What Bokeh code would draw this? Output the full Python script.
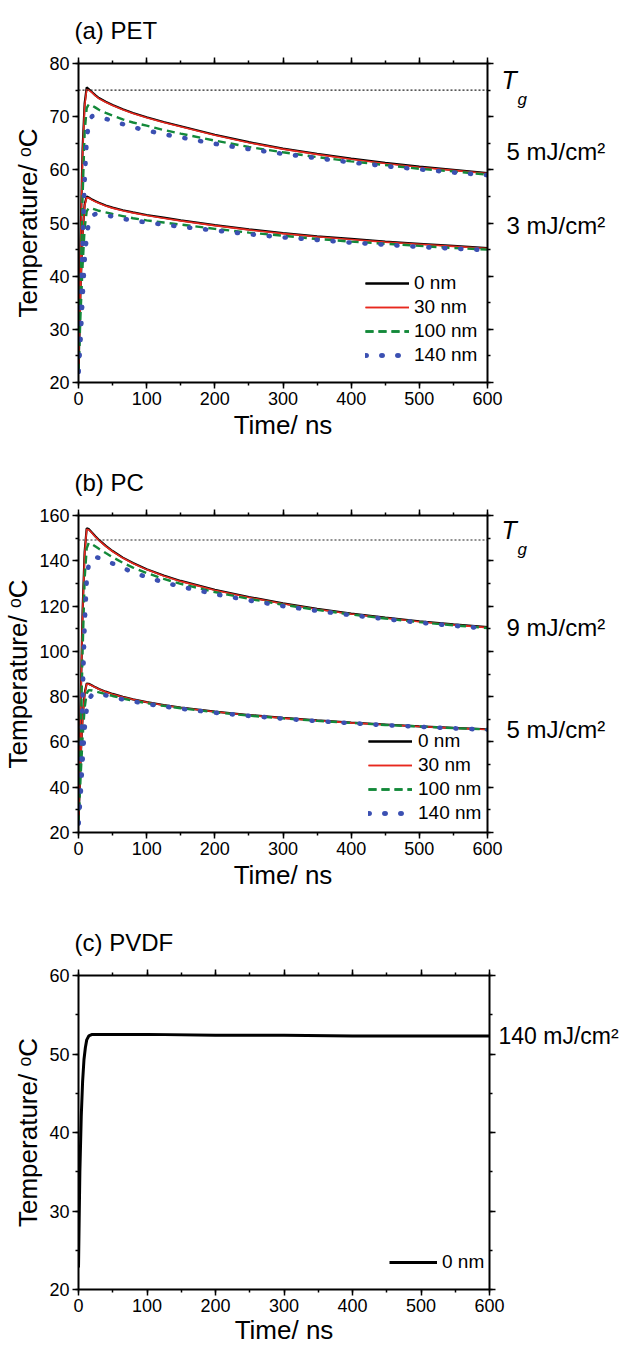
import math
from bokeh.plotting import figure
from bokeh.models import (Legend, LegendItem, Span, LinearAxis, Title, FixedTicker,
                          SingleIntervalTicker, CustomJSTickFormatter, Range1d)
from bokeh.layouts import column
from bokeh.embed import file_html
from bokeh.resources import INLINE

FONT = "Liberation Sans"

# ---------------- data ----------------
time_ns = [0, 3, 6, 9, 12, 15, 20, 25, 30, 40, 50, 65, 80, 100, 125, 150,
           200, 250, 300, 350, 400, 450, 500, 550, 600]

# (a) PET, 5 mJ/cm2
pet5_0nm = [22, 47, 64, 72.5, 75.5, 75.2, 74.6, 74.0, 73.5, 72.8, 72.2, 71.4, 70.7, 69.9, 69.0,
            68.2, 66.6, 65.2, 64.0, 63.0, 62.1, 61.3, 60.6, 60.0, 59.4]
pet5_30nm = [22, 46, 63, 72.0, 75.1, 75.0, 74.5, 73.9, 73.4, 72.7, 72.1, 71.3, 70.6, 69.8, 68.9,
             68.1, 66.5, 65.1, 63.9, 62.9, 62.0, 61.2, 60.5, 59.9, 59.3]
pet5_100nm = [22, 38, 55, 67, 71.6, 72.3, 72.1, 71.7, 71.3, 70.7, 70.2, 69.5, 68.9, 68.3, 67.5,
              66.8, 65.5, 64.3, 63.3, 62.4, 61.6, 60.9, 60.2, 59.7, 59.1]
pet5_140nm = [22, 32, 46, 58, 65.5, 68.8, 70.1, 70.2, 70.0, 69.6, 69.2, 68.6, 68.0, 67.4, 66.7,
              66.1, 64.9, 63.9, 63.0, 62.2, 61.4, 60.7, 60.1, 59.5, 59.0]
# (a) PET, 3 mJ/cm2
pet3_0nm = [22, 38, 48, 53.5, 55.0, 54.8, 54.4, 54.1, 53.8, 53.3, 52.9, 52.4, 52.0, 51.5, 51.0,
            50.5, 49.6, 48.8, 48.1, 47.5, 47.0, 46.5, 46.1, 45.7, 45.3]
pet3_30nm = [22, 37, 47.5, 53.2, 54.8, 54.7, 54.3, 54.0, 53.7, 53.2, 52.8, 52.3, 51.9, 51.4, 50.9,
             50.4, 49.5, 48.7, 48.0, 47.4, 46.9, 46.4, 46.0, 45.6, 45.2]
pet3_100nm = [22, 33, 42, 49, 52.2, 52.8, 52.7, 52.5, 52.3, 52.0, 51.7, 51.3, 50.9, 50.5, 50.1,
              49.7, 48.9, 48.2, 47.6, 47.0, 46.5, 46.1, 45.7, 45.3, 45.0]
pet3_140nm = [22, 28, 36, 43, 47.5, 50.0, 51.4, 51.7, 51.7, 51.5, 51.2, 50.8, 50.5, 50.1, 49.7,
              49.3, 48.6, 47.9, 47.3, 46.8, 46.3, 45.9, 45.5, 45.2, 44.9]

# (b) PC, 9 mJ/cm2
pc9_0nm = [24, 75, 118, 144, 154.3, 154.0, 152.4, 150.7, 149.2, 146.6, 144.3, 141.4, 139.0, 136.3,
           133.5, 131.1, 127.2, 124.0, 121.2, 118.8, 116.7, 114.9, 113.3, 111.9, 110.7]
pc9_30nm = [24, 73, 116, 143, 153.9, 153.7, 152.2, 150.5, 149.0, 146.4, 144.1, 141.2, 138.8, 136.1,
            133.3, 130.9, 127.0, 123.8, 121.0, 118.6, 116.5, 114.7, 113.1, 111.7, 110.5]
pc9_100nm = [24, 60, 100, 132, 145.5, 147.9, 147.3, 146.3, 145.3, 143.4, 141.6, 139.1, 137.0, 134.6,
             132.0, 129.8, 126.2, 123.2, 120.6, 118.3, 116.3, 114.5, 112.9, 111.5, 110.3]
pc9_140nm = [24, 45, 80, 112, 131, 138.5, 141.3, 141.6, 141.3, 140.2, 138.8, 136.8, 134.9, 132.8,
             130.5, 128.6, 125.3, 122.5, 120.0, 117.9, 116.0, 114.3, 112.7, 111.3, 110.1]
# (b) PC, 5 mJ/cm2
pc5_0nm = [24, 52, 71, 81.5, 85.8, 85.7, 84.9, 84.1, 83.4, 82.2, 81.2, 79.9, 78.8, 77.6, 76.3,
           75.2, 73.4, 71.9, 70.6, 69.5, 68.5, 67.7, 66.9, 66.2, 65.6]
pc5_30nm = [24, 51, 70, 81, 85.6, 85.5, 84.8, 84.0, 83.3, 82.1, 81.1, 79.8, 78.7, 77.5, 76.2,
            75.1, 73.3, 71.8, 70.5, 69.4, 68.4, 67.6, 66.8, 66.1, 65.5]
pc5_100nm = [24, 44, 62, 75, 81.5, 82.9, 82.7, 82.3, 81.9, 81.1, 80.3, 79.2, 78.2, 77.1, 75.9,
             74.9, 73.1, 71.6, 70.4, 69.3, 68.4, 67.5, 66.8, 66.1, 65.5]
pc5_140nm = [24, 36, 52, 66, 74.5, 78.8, 80.9, 81.3, 81.2, 80.6, 79.9, 78.8, 77.9, 76.8, 75.7,
             74.7, 72.9, 71.5, 70.3, 69.2, 68.3, 67.4, 66.7, 66.0, 65.4]

# (c) PVDF, 140 mJ/cm2
time_c_ns = [0, 1, 2, 4, 6, 8, 10, 12, 15, 20, 50, 100, 200, 300, 400, 500, 600]
pvdf_0nm = [22.8, 29, 35, 42, 46.5, 49.3, 50.8, 51.8, 52.3, 52.5, 52.5, 52.5, 52.4, 52.4, 52.3,
            52.3, 52.3]

thickness_labels = ["0 nm", "30 nm", "100 nm", "140 nm"]
tg_pet = 75
tg_pc = 149.2

# ---------------- styling ----------------
COLORS = ["#000000", "#e8281e", "#13893a", "#3b50b2"]
WIDTHS = [2.2, 1.6, 2.4, 4.6]
DASHES = ["solid", "solid", "8 5", "1 15"]
CAPS = ["butt", "butt", "butt", "round"]


def style_axis(ax, show_labels=True):
    ax.axis_line_width = 2
    ax.axis_line_color = "black"
    ax.major_tick_line_width = 1.5
    ax.minor_tick_line_width = 1.5
    ax.major_tick_line_color = "black"
    ax.minor_tick_line_color = "black"
    ax.major_tick_out = 6
    ax.major_tick_in = 0
    ax.minor_tick_out = 3
    ax.minor_tick_in = 0
    ax.major_label_text_font = FONT
    ax.major_label_text_font_size = "18px"
    ax.major_label_text_color = "black"
    ax.major_label_standoff = 3
    ax.axis_label_text_font = FONT
    ax.axis_label_text_font_style = "normal"
    ax.axis_label_text_color = "black"
    ax.axis_label_text_font_size = "26px"
    if not show_labels:
        ax.formatter = CustomJSTickFormatter(code="return ''")
        ax.major_label_text_font_size = "0px"
        ax.major_label_standoff = 0


def make_fig(title, y0, y1, yint, frame_w, frame_h, left, right, top, bottom, xstand):
    p = figure(width=left + frame_w + right, height=top + frame_h + bottom,
               frame_width=frame_w, frame_height=frame_h,
               x_range=Range1d(0, 600), y_range=Range1d(y0, y1),
               output_backend="svg", toolbar_location=None,
               min_border_left=left, min_border_right=right,
               min_border_top=top, min_border_bottom=bottom)
    p.xgrid.visible = False
    p.ygrid.visible = False
    p.outline_line_color = None
    p.background_fill_color = "white"
    p.border_fill_color = "white"
    p.xaxis.ticker = SingleIntervalTicker(interval=100, num_minor_ticks=2)
    p.yaxis.ticker = SingleIntervalTicker(interval=yint, num_minor_ticks=2)
    style_axis(p.xaxis[0])
    style_axis(p.yaxis[0])
    p.xaxis.axis_label = "Time/ ns"
    p.xaxis.axis_label_standoff = xstand
    p.yaxis.axis_label = "Temperature/ \u1d52C"
    p.yaxis.axis_label_standoff = 3
    ra = LinearAxis(ticker=SingleIntervalTicker(interval=yint, num_minor_ticks=2))
    ta = LinearAxis(ticker=SingleIntervalTicker(interval=100, num_minor_ticks=2))
    style_axis(ra, False)
    style_axis(ta, False)
    p.add_layout(ra, "right")
    p.add_layout(ta, "above")
    p.title = Title(text=title, align="left", offset=-4, standoff=28,
                    text_font=FONT, text_font_size="24px", text_font_style="normal",
                    text_color="black")
    return p


def text_axis(p, ys, texts, size, standoff, style="normal"):
    ax = LinearAxis(ticker=FixedTicker(ticks=ys, minor_ticks=[]),
                    major_label_overrides={y: t for y, t in zip(ys, texts)})
    ax.axis_line_color = None
    ax.major_tick_line_color = None
    ax.minor_tick_line_color = None
    ax.major_tick_out = 0
    ax.major_tick_in = 0
    ax.minor_tick_out = 0
    ax.minor_tick_in = 0
    ax.major_label_standoff = standoff
    ax.major_label_text_font = FONT
    ax.major_label_text_font_style = style
    ax.major_label_text_font_size = size
    ax.major_label_text_color = "black"
    p.add_layout(ax, "right")


def tg_marker(p, tg, px_per_unit):
    p.add_layout(Span(location=tg, dimension="width", line_color="#222222",
                      line_width=1.1, line_dash="2 2"))
    # italic T just above the line, subscript g below it (pixel offsets -> data units)
    text_axis(p, [tg + 10.2 / px_per_unit], ["T"], "25px", 8, "italic")
    text_axis(p, [tg - 9.5 / px_per_unit], ["g"], "17px", -2, "italic")


def draw_sets(p, t, upper, lower):
    items = []
    for i in range(4):
        kw = dict(line_color=COLORS[i], line_width=WIDTHS[i], line_dash=DASHES[i],
                  line_cap=CAPS[i])
        r1 = p.line(t, upper[i], **kw)
        r2 = p.line(t, lower[i], **kw)
        items.append(LegendItem(label=thickness_labels[i], renderers=[r1, r2]))
    return items


def add_legend(p, items, loc, gw, standoff):
    lg = Legend(items=items, location=loc, glyph_width=gw, glyph_height=20,
                label_height=20, label_standoff=standoff, spacing=2, padding=0, margin=0,
                label_text_font=FONT, label_text_font_size="19px", label_text_color="black",
                border_line_color=None, background_fill_alpha=0)
    p.add_layout(lg)


# ---------------- panel (a) ----------------
pa = make_fig("(a) PET", 20, 80, 10, 409, 319, 74, 138, 63, 70, 2)
items = draw_sets(pa, time_ns, [pet5_0nm, pet5_30nm, pet5_100nm, pet5_140nm],
                  [pet3_0nm, pet3_30nm, pet3_100nm, pet3_140nm])
add_legend(pa, items, (287, 16), 44, 5)
tg_marker(pa, tg_pet, 319 / 60)
text_axis(pa, [63.5, 49.5], ["5 mJ/cm\u00b2", "3 mJ/cm\u00b2"], "24px", -23)

# ---------------- panel (b) ----------------
pb = make_fig("(b) PC", 20, 160, 20, 409, 317, 76, 136, 63, 80, 2)
items = draw_sets(pb, time_ns, [pc9_0nm, pc9_30nm, pc9_100nm, pc9_140nm],
                  [pc5_0nm, pc5_30nm, pc5_100nm, pc5_140nm])
add_legend(pb, items, (290, 8), 44, 6)
tg_marker(pb, tg_pc, 317 / 140)
text_axis(pb, [pc9_0nm[-1], pc5_0nm[-1]], ["9 mJ/cm\u00b2", "5 mJ/cm\u00b2"], "24px", -23)

# ---------------- panel (c) ----------------
pc = make_fig("(c) PVDF", 20, 60, 10, 411, 314, 76, 134, 63, 58, 0)
rc = pc.line(time_c_ns, pvdf_0nm, line_color="black", line_width=3)
add_legend(pc, [LegendItem(label="0 nm", renderers=[rc])], (311, 16), 48, 5)
text_axis(pc, [pvdf_0nm[-1]], ["140 mJ/cm\u00b2"], "23px", 3)

layout = column(pa, pb, pc, spacing=0)
open("out.html", "w").write(file_html(layout, INLINE))
